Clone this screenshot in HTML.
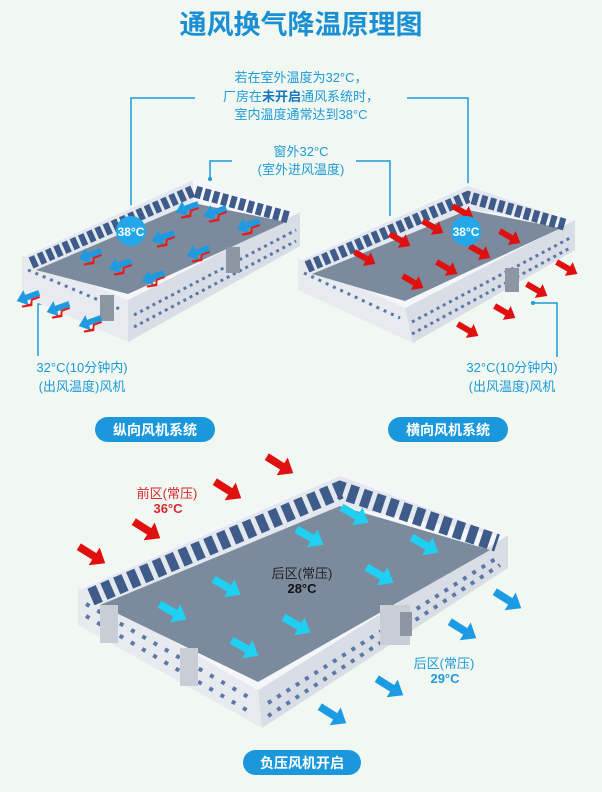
<!DOCTYPE html>
<html><head><meta charset="utf-8"><style>
html,body{margin:0;padding:0;background:#f1f7f1;}
svg{display:block;font-family:"Liberation Sans","Noto Sans CJK SC",sans-serif;}
</style></head><body>
<svg width="602" height="792" viewBox="0 0 602 792" xmlns="http://www.w3.org/2000/svg">
<defs>
<polygon id="ar" points="-12,-3 2,-3 2,-8 12,0 2,8 2,3 -12,3"/>
<g id="lr"><polygon points="-12,-3 2,-3 2,-8 12,0 2,8 2,3 -12,3" fill="#1e9be0"/><polygon points="-11,-5 -3,-5 -1,-10 9,-8 9,-6 0,-7 -2,-3 -11,-3" fill="#e51c1c"/></g>
</defs>
<rect width="602" height="792" fill="#f1f7f1"/>
<text x="301" y="34" text-anchor="middle" font-size="27" font-weight="bold" fill="#1a8fd3">通风换气降温原理图</text>

<g fill="#1e9ad8" font-size="13" text-anchor="middle">
<text x="301" y="82">若在室外温度为32°C，</text>
<text x="301" y="101">厂房在<tspan font-weight="bold" fill="#1477c0">未开启</tspan>通风系统时，</text>
<text x="301" y="119">室内温度通常达到38°C</text>
<text x="301" y="156">窗外32°C</text>
<text x="301" y="174">(室外进风温度)</text>
<text x="82" y="372">32°C(10分钟内)</text>
<text x="82" y="391">(出风温度)风机</text>
<text x="512" y="372">32°C(10分钟内)</text>
<text x="512" y="391">(出风温度)风机</text>
</g>
<g stroke="#1e9ad8" stroke-width="1.5" fill="none">
<polyline points="195,98 131,98 131,218"/>
<polyline points="407,98 468,98 468,218"/>
<polyline points="232,161 210,161 210,179"/>
<polyline points="356,161 390,161 390,216"/>
<polyline points="62,304 38,304 38,356"/>
<polyline points="533,303 557,303 557,357"/>
</g>

<!-- Left building -->
<g>
<polygon points="22,255 128,300 128,342 22,296" fill="#e7ebf0"/>
<polygon points="128,300 300,212 300,246 128,342" fill="#d9dee6"/>
<polygon points="22,255 193,177 300,212 128,300" fill="#f4f6f9"/>
<polygon points="26,256 193,180 296,213 193,180 193,203 36,270" fill="#e3e7ee"/>
<polygon points="36,270 193,203 286,222 128,294" fill="#7b8a9c"/>
<polyline points="31,263 193,191 291,218" fill="none" stroke="#3e5b89" stroke-width="12" stroke-dasharray="6 3"/>
<line x1="134" y1="315" x2="296" y2="230" stroke="#5c78a6" stroke-width="3" stroke-dasharray="3 4"/>
<line x1="134" y1="327" x2="296" y2="241" stroke="#5c78a6" stroke-width="3" stroke-dasharray="3 4"/>
<line x1="28" y1="270" x2="122" y2="310" stroke="#5c78a6" stroke-width="3" stroke-dasharray="3 5"/>
<rect x="100" y="295" width="14" height="26" fill="#8d96a3"/>
<rect x="226" y="247" width="14" height="26" fill="#8d96a3"/>
</g>
<g>
<use href="#lr" transform="translate(187,208) rotate(160)"/>
<use href="#lr" transform="translate(215,212) rotate(160)"/>
<use href="#lr" transform="translate(248,225) rotate(160)"/>
<use href="#lr" transform="translate(163,237) rotate(160)"/>
<use href="#lr" transform="translate(198,252) rotate(160)"/>
<use href="#lr" transform="translate(90,255) rotate(160)"/>
<use href="#lr" transform="translate(120,265) rotate(160)"/>
<use href="#lr" transform="translate(153,277) rotate(160)"/>
<use href="#lr" transform="translate(28,297) rotate(160)"/>
<use href="#lr" transform="translate(58,308) rotate(160)"/>
<use href="#lr" transform="translate(90,322) rotate(160)"/>
</g>
<circle cx="131" cy="231" r="15" fill="#22a7ea"/>
<text x="131" y="236" text-anchor="middle" font-size="12" font-weight="bold" fill="#fff">38°C</text>

<!-- Right building -->
<g>
<polygon points="298,258 405,308 413,343 298,290" fill="#e7ebf0"/>
<polygon points="405,308 575,220 575,250 413,343" fill="#d9dee6"/>
<polygon points="298,258 468,183 575,220 405,308" fill="#f4f6f9"/>
<polygon points="302,260 468,186 571,221 468,210 312,274" fill="#e3e7ee"/>
<polygon points="312,274 468,210 561,228 405,301" fill="#7b8a9c"/>
<polyline points="307,267 468,197 566,225" fill="none" stroke="#3e5b89" stroke-width="12" stroke-dasharray="6 3"/>
<line x1="412" y1="322" x2="570" y2="238" stroke="#5c78a6" stroke-width="3" stroke-dasharray="3 4"/>
<line x1="412" y1="334" x2="570" y2="248" stroke="#5c78a6" stroke-width="3" stroke-dasharray="3 4"/>
<line x1="304" y1="273" x2="400" y2="318" stroke="#5c78a6" stroke-width="3" stroke-dasharray="3 5"/>
<rect x="505" y="268" width="14" height="24" fill="#8d96a3"/>
</g>
<g fill="#e01010">
<use href="#ar" transform="translate(463,212) rotate(30)"/>
<use href="#ar" transform="translate(433,227) rotate(30)"/>
<use href="#ar" transform="translate(400,240) rotate(30)"/>
<use href="#ar" transform="translate(365,258) rotate(30)"/>
<use href="#ar" transform="translate(510,237) rotate(30)"/>
<use href="#ar" transform="translate(480,252) rotate(30)"/>
<use href="#ar" transform="translate(447,268) rotate(30)"/>
<use href="#ar" transform="translate(413,282) rotate(30)"/>
<use href="#ar" transform="translate(567,268) rotate(30)"/>
<use href="#ar" transform="translate(537,290) rotate(30)"/>
<use href="#ar" transform="translate(505,312) rotate(30)"/>
<use href="#ar" transform="translate(468,330) rotate(30)"/>
</g>
<circle cx="533" cy="303" r="2" fill="#1e9ad8"/>
<circle cx="210" cy="179" r="2" fill="#1e9ad8"/>
<circle cx="466" cy="231" r="15" fill="#22a7ea"/>
<text x="466" y="236" text-anchor="middle" font-size="12" font-weight="bold" fill="#fff">38°C</text>

<!-- Pills -->
<rect x="95" y="417" width="120" height="25" rx="12.5" fill="#1b98dc"/>
<text x="155" y="435" text-anchor="middle" font-size="14" font-weight="bold" fill="#fff">纵向风机系统</text>
<rect x="388" y="417" width="120" height="25" rx="12.5" fill="#1b98dc"/>
<text x="448" y="435" text-anchor="middle" font-size="14" font-weight="bold" fill="#fff">横向风机系统</text>

<!-- Bottom building -->
<g>
<polygon points="78,587 258,690 262,728 78,625" fill="#e7ebf0"/>
<polygon points="258,690 508,535 508,568 262,728" fill="#d9dee6"/>
<polygon points="78,587 340,472 508,535 258,690" fill="#f4f6f9"/>
<polygon points="82,589 340,476 503,536 340,506 100,605" fill="#e3e7ee"/>
<polygon points="100,605 340,506 490,550 258,682" fill="#7b8a9c"/>
<polyline points="91,597 340,490 497,543" fill="none" stroke="#3e5b89" stroke-width="18" stroke-dasharray="9 5"/>
<line x1="268" y1="703" x2="500" y2="556" stroke="#5c78a6" stroke-width="4" stroke-dasharray="4 7"/>
<line x1="268" y1="716" x2="500" y2="565" stroke="#5c78a6" stroke-width="4" stroke-dasharray="4 7"/>
<line x1="86" y1="604" x2="250" y2="698" stroke="#5c78a6" stroke-width="4" stroke-dasharray="4 9"/>
<line x1="86" y1="616" x2="250" y2="712" stroke="#5c78a6" stroke-width="4" stroke-dasharray="4 9"/>
<rect x="100" y="605" width="18" height="38" fill="#c9ced6"/>
<rect x="180" y="648" width="18" height="38" fill="#c9ced6"/>
<rect x="380" y="605" width="30" height="40" fill="#c9ced6"/>
<rect x="400" y="612" width="12" height="24" fill="#8d96a3"/>
</g>
<g fill="#e01010">
<use href="#ar" transform="translate(280,465) rotate(32) scale(1.3)"/>
<use href="#ar" transform="translate(228,490) rotate(32) scale(1.3)"/>
<use href="#ar" transform="translate(147,530) rotate(32) scale(1.3)"/>
<use href="#ar" transform="translate(92,555) rotate(32) scale(1.3)"/>
</g>
<g fill="#20d0f2">
<use href="#ar" transform="translate(355,515) rotate(30) scale(1.3)"/>
<use href="#ar" transform="translate(310,537) rotate(30) scale(1.3)"/>
<use href="#ar" transform="translate(425,545) rotate(30) scale(1.3)"/>
<use href="#ar" transform="translate(380,575) rotate(30) scale(1.3)"/>
<use href="#ar" transform="translate(227,587) rotate(30) scale(1.3)"/>
<use href="#ar" transform="translate(173,612) rotate(30) scale(1.3)"/>
<use href="#ar" transform="translate(297,625) rotate(30) scale(1.3)"/>
<use href="#ar" transform="translate(245,648) rotate(30) scale(1.3)"/>
</g>
<g fill="#1b9be3">
<use href="#ar" transform="translate(508,600) rotate(32) scale(1.3)"/>
<use href="#ar" transform="translate(463,630) rotate(32) scale(1.3)"/>
<use href="#ar" transform="translate(390,687) rotate(32) scale(1.3)"/>
<use href="#ar" transform="translate(333,715) rotate(32) scale(1.3)"/>
</g>
<g text-anchor="middle" font-size="13">
<text x="167" y="498" fill="#d8262c">前区(常压)</text>
<text x="168" y="513" fill="#d8262c" font-weight="bold">36°C</text>
<text x="302" y="578" fill="#222">后区(常压)</text>
<text x="302" y="593" fill="#111" font-weight="bold">28°C</text>
<text x="444" y="668" fill="#1e9ad8">后区(常压)</text>
<text x="445" y="683" fill="#1e9ad8" font-weight="bold">29°C</text>
</g>
<rect x="243" y="750" width="118" height="25" rx="12.5" fill="#1b98dc"/>
<text x="302" y="768" text-anchor="middle" font-size="14" font-weight="bold" fill="#fff">负压风机开启</text>
</svg>
</body></html>
